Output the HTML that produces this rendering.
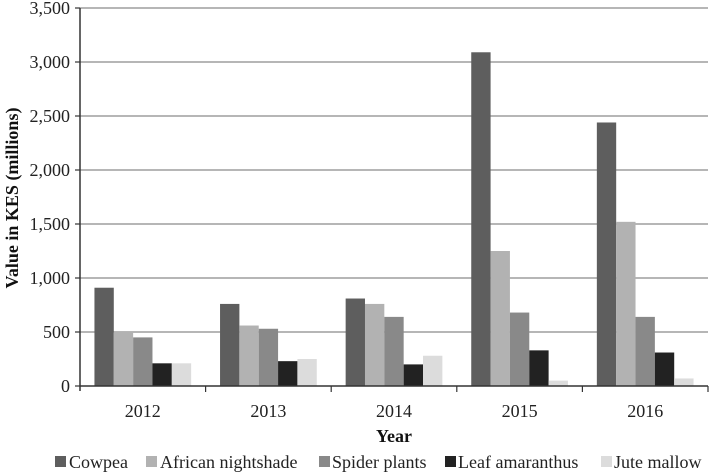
<!DOCTYPE html>
<html><head><meta charset="utf-8"><style>
body{margin:0;background:#fff;}
svg{display:block;font-family:"Liberation Serif","Times New Roman",serif;}
</style></head><body>
<svg id="c" width="709" height="476" xmlns="http://www.w3.org/2000/svg"></svg>
<script>
const categories=["2012","2013","2014","2015","2016"];
const seriesNames=["Cowpea","African nightshade","Spider plants","Leaf amaranthus","Jute mallow"];
const cowpea=[910,760,810,3090,2440];
const nightshade=[500,560,760,1250,1520];
const spider=[450,530,640,680,640];
const amaranthus=[210,230,200,330,310];
const jute=[210,250,280,50,70];
const yTicks=[0,500,1000,1500,2000,2500,3000,3500];
const yTickLabels=["0","500","1,000","1,500","2,000","2,500","3,000","3,500"];
const series=[cowpea,nightshade,spider,amaranthus,jute];
const colors=["#5e5e5e","#b2b2b2","#898989","#222222","#dcdcdc"];
const NS="http://www.w3.org/2000/svg";
const svg=document.getElementById("c");
const x0=80,x1=708,y0=386,yTop=8,yMax=3500;
const y=v=>y0-(v/yMax)*(y0-yTop);
const gw=(x1-x0)/categories.length;
function mk(t,a,p){const e=document.createElementNS(NS,t);for(const k in a)e.setAttribute(k,a[k]);(p||svg).appendChild(e);return e;}
yTicks.forEach((t,i)=>{
  if(t>0){const g=mk("line",{x1:x0,x2:x1,y1:y(t),y2:y(t),stroke:"#8a8a8a","stroke-width":1.2});
  
  }
  const tk=mk("line",{x1:x0-5,x2:x0,y1:y(t),y2:y(t),stroke:"#333","stroke-width":1.2});
  
  
  const l=mk("text",{x:x0-10,y:y(t)+6,"text-anchor":"end","font-size":18,fill:"#222"});
  l.textContent=yTickLabels[i];
  
  
});
const bw=gw*0.154, pad=(gw-bw*5)/2;
categories.forEach((c,ci)=>{
  const gx=x0+ci*gw;
  series.forEach((s,si)=>{
    const r=mk("rect",{x:gx+pad+si*bw,y:y(s[ci]),width:bw,height:y0-y(s[ci]),fill:colors[si]});
    
    
  });
  const t=mk("text",{x:gx+gw/2,y:y0+31,"text-anchor":"middle","font-size":18,fill:"#222"});
  t.textContent=c;
  
  
  const tk=mk("line",{x1:gx+gw,x2:gx+gw,y1:y0,y2:y0+6,stroke:"#333","stroke-width":1.2});
  
  
});
const xl=mk("line",{x1:x0,x2:x1,y1:y0,y2:y0,stroke:"#333","stroke-width":1.5});


const yl=mk("line",{x1:x0,x2:x0,y1:yTop,y2:y0+5,stroke:"#333","stroke-width":1.5});


const xt=mk("text",{x:394,y:442,"text-anchor":"middle","font-size":18,"font-weight":"bold",fill:"#111"});
xt.textContent="Year";


const yt=mk("text",{x:0,y:0,transform:"translate(18,198) rotate(-90)","text-anchor":"middle","font-size":18,"font-weight":"bold",fill:"#111"});
yt.textContent="Value in KES (millions)";


const lsq=[55,146,319,445,601];
const ltx=[69,160,332,458,614];
seriesNames.forEach((n,i)=>{
  const g=mk("g",{});
  
  
  mk("rect",{x:lsq[i],y:456,width:11,height:11,fill:colors[i]},g);
  const t=mk("text",{x:ltx[i],y:468,"font-size":18,fill:"#222"},g);
  t.textContent=n;
});
</script>
</body></html>
